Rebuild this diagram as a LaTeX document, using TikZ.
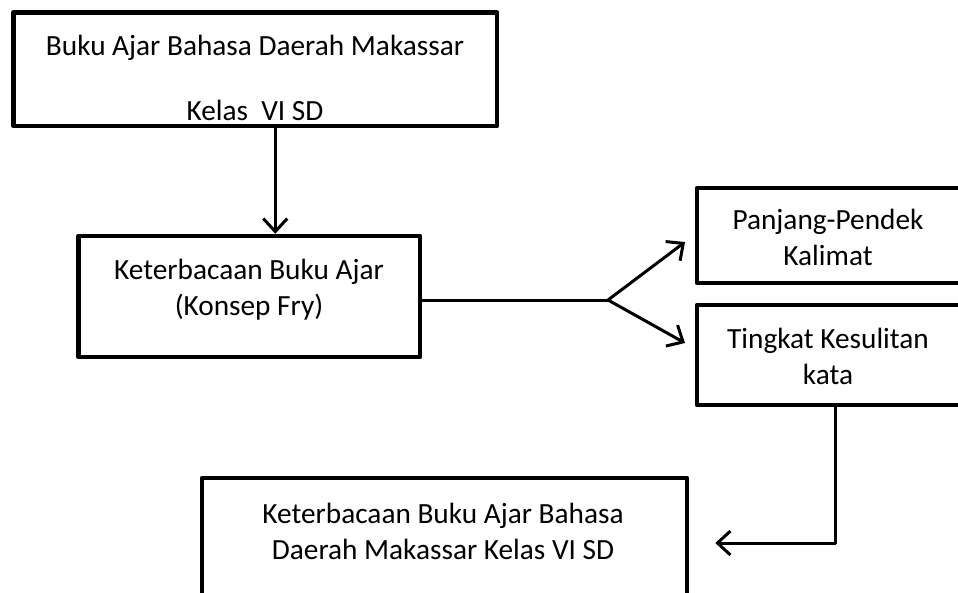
\documentclass[tikz,border=0pt]{standalone}
\usepackage{fontspec}
\setmainfont{Carlito}
\usetikzlibrary{arrows.meta}

\begin{document}
\begin{tikzpicture}[x=1pt,y=-1pt,
        kotak/.style={draw,line width=4.5pt,line join=round,inner sep=0pt},
        teks/.style={align=center,inner sep=0pt,font=\fontsize{29.3}{36}\selectfont},
        garis/.style={line width=3pt},
        panah/.style={garis,-{Straight Barb[length=13pt,width=24pt]}}]
        \useasboundingbox (0,0) rectangle (958,592);
        \clip (0,0) rectangle (958,592);
        %kotak
        \node[kotak,minimum width=483.5pt,minimum height=113.5pt] (b1) at (255.25,69.25) {};
        \node[kotak,minimum width=341.5pt,minimum height=121pt] (b2) at (249.25,296.5) {};
        \node[kotak,minimum width=263pt,minimum height=95pt] (b3) at (828.5,235.5) {};
        \node[kotak,minimum width=263pt,minimum height=100pt] (b4) at (828.5,355) {};
        \node[kotak,minimum width=485pt,minimum height=130pt] (b5) at (444.5,543) {};
        %teks
        \node[teks] (t1) at (255,77.5) {Buku Ajar Bahasa Daerah Makassar\\[29pt]Kelas~~VI SD};
        \node[teks] (t2) at (249,289.5) {Keterbacaan Buku Ajar\\(Konsep Fry)};
        \node[teks] (t3) at (828,237.5) {Panjang-Pendek\\Kalimat};
        \node[teks] (t4) at (828,356) {Tingkat Kesulitan\\kata};
        \node[teks] (t5) at (443,531.5) {Keterbacaan Buku Ajar Bahasa\\Daerah Makassar Kelas VI SD};
        %panah
        \coordinate (cab) at (608,300);
        \coordinate (u1) at (685,242);
        \coordinate (u2) at (685,343);
        \draw[panah] ([xshift=20pt]b1.south) -- ([xshift=20pt]b1.south |- b2.north);
        \draw[garis] (b2.east |- cab) -- (cab);
        \draw[panah] (cab) -- (u1);
        \draw[panah] (cab) -- (u2);
        \draw[panah,line join=round] ([xshift=6.5pt]b4.south) |- ([xshift=26pt]b5.east);
\end{tikzpicture}
\end{document}
